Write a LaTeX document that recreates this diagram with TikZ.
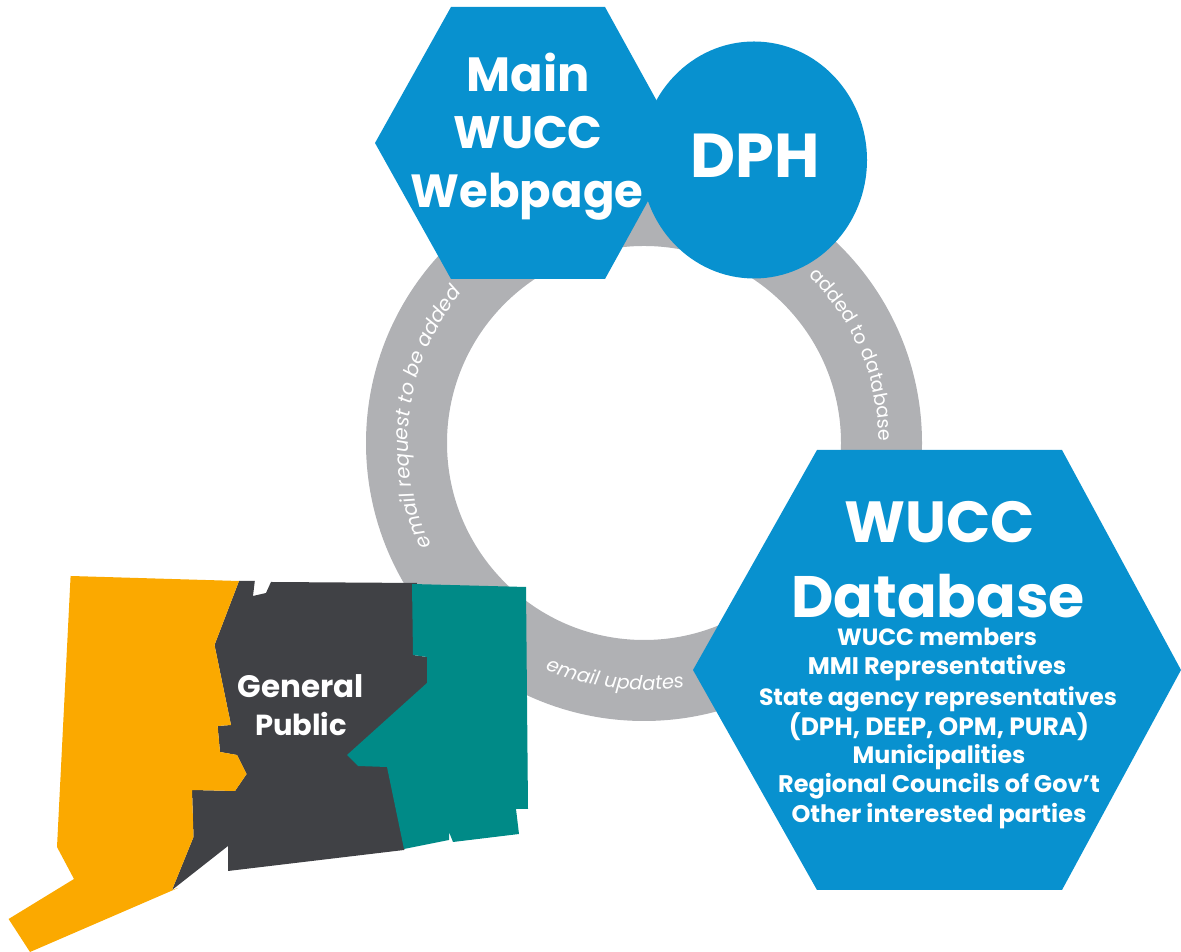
\documentclass[tikz,border=0pt]{standalone}
\usepackage{fontspec}
\setmainfont{Poppins}
\usetikzlibrary{decorations.text}
\definecolor{wblue}{HTML}{0891CF}
\definecolor{wgrey}{HTML}{B0B1B4}
\definecolor{worange}{HTML}{FBA900}
\definecolor{wdark}{HTML}{404145}
\definecolor{wteal}{HTML}{008A87}
\newcommand{\fs}[1]{\fontsize{#1}{#1}\selectfont}
\tikzset{
  x=1pt,y=1pt,
  lab/.style={text=white,inner sep=0pt,anchor=base,font=\fs{#1}\bfseries},
  ringtext/.style={decorate,decoration={text along path,text align=center,text color=white,text={#1}}},
  px/.style={shift={(0pt,952pt)},y=-1pt}
}
\begin{document}
\begin{tikzpicture}
\useasboundingbox (0,0) rectangle (1181,952);
% ring
\draw[wgrey,line width=81pt] (644,509) circle (237.5);
% labels on ring
\path[ringtext={|\fs{20}\itshape|email request to be added}] (644,509) ++(208:236) arc (208:138:236);
\path[ringtext={|\fs{19}|added to database}] (644,509) ++(49:235) arc (49:-3:235);
\path[ringtext={|\fs{19.5}\itshape|email updates}] (644,509) ++(243:247) arc (243:283:247);
\begin{scope}[px]
% map
\fill[wdark] (239,581)--(254.8,581)--(253,596)--(266,593)--(271,582)--(417,583)--(413,655)--(427,657)--(427,683)--(450,760)--(404,850)--(228,871)--(228,846)--(172,890)--(193.5,837)--(192,790)--(235,791)--(246.6,774)--(237,755)--(220,752)--(217.6,726)--(231,725)--(214.5,645)--cycle;
\fill[worange] (70.6,576)--(239,581)--(214.5,645)--(231,725)--(217.6,726)--(220,752)--(237,755)--(246.6,774)--(235,791)--(192,790)--(193.5,837)--(172,890)--(178,888)--(30,952)--(8.6,919)--(74,879)--(57,847)--cycle;
\fill[wteal] (412,584)--(526,587)--(528,809)--(516,809)--(519,834)--(453,842)--(449,832)--(449,840)--(404,849)--(387,767)--(358,766)--(347,755)--(427,683)--(427,657)--(413,655)--cycle;
% shapes
\fill[wblue] (451,7)--(605,7)--(680,143)--(605,279)--(451,279)--(375,143)--cycle;
\fill[wblue] (754,160) ellipse [x radius=113,y radius=118.5];
\fill[wblue] (817,450)--(1062,450)--(1181,670)--(1062,890)--(817,890)--(693,670)--cycle;
% text
\node[lab=48] (main) at (528.5,92) {Main};
\node[lab=45.5] (wucc) at (528,149) {WUCC};
\node[lab=46.5] (web) at (527,208) {Webpage};
\node[lab=62] (dph) at (755,178) {DPH};
\node[lab=58] (dbw) at (940,543) {WUCC};
\node[lab=58.5] (dbd) at (938,618) {Database};
\node[lab=23.5] (l1) at (937,646) {WUCC members};
\node[lab=24] (l2) at (937,675) {MMI Representatives};
\node[lab=23.5] (l3) at (938,706) {State agency representatives};
\node[lab=25] (l4) at (939,736) {(DPH, DEEP, OPM, PURA)};
\node[lab=23.7] (l5) at (939,764) {Municipalities};
\node[lab=24] (l6) at (939,793) {Regional Councils of Gov’t};
\node[lab=24] (l7) at (939,823) {Other interested parties};
\node[lab=31] (g1) at (301,698) {General};
\node[lab=29] (g2) at (301,736) {Public};
\end{scope}
\end{tikzpicture}
\end{document}
